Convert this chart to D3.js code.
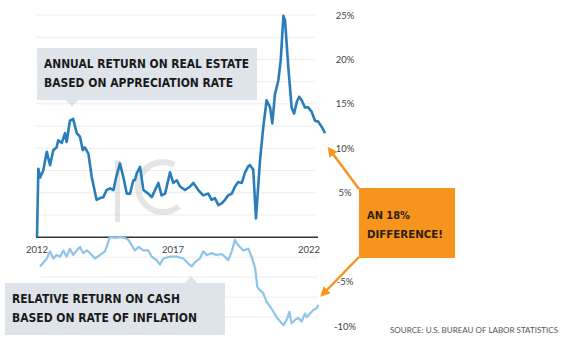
<!DOCTYPE html>
<html>
<head>
<meta charset="utf-8">
<script src="https://cdn.jsdelivr.net/npm/d3@7"></script>
<style>
  body { margin: 0; background: #fff; }
  svg { display: block; }
</style>
</head>
<body>
<svg id="chart" width="578" height="341"></svg>
<script>
// annual appreciation of real estate, % (decimal years)
const reDates = [2012.00, 2012.05, 2012.11, 2012.23, 2012.36, 2012.48, 2012.60, 2012.72, 2012.78, 2012.91,
  2013.03, 2013.09, 2013.21, 2013.33, 2013.46, 2013.58, 2013.68, 2013.76, 2013.89, 2014.01,
  2014.19, 2014.32, 2014.44, 2014.56, 2014.68, 2014.81, 2014.90, 2015.05, 2015.17, 2015.30,
  2015.42, 2015.54, 2015.60, 2015.67, 2015.79, 2015.91, 2016.09, 2016.22, 2016.34, 2016.46,
  2016.58, 2016.71, 2016.89, 2017.01, 2017.14, 2017.26, 2017.44, 2017.63, 2017.75, 2017.93,
  2018.11, 2018.30, 2018.42, 2018.54, 2018.67, 2018.79, 2018.91, 2019.03, 2019.16, 2019.28,
  2019.40, 2019.53, 2019.65, 2019.77, 2019.83, 2019.95, 2020.05, 2020.20, 2020.32, 2020.44,
  2020.57, 2020.65, 2020.75, 2020.87, 2020.96, 2021.06, 2021.12, 2021.24, 2021.36, 2021.45,
  2021.55, 2021.64, 2021.73, 2021.85, 2021.97, 2022.10, 2022.22, 2022.34, 2022.47, 2022.59];
const reValues = [0, 7.7, 6.7, 7.5, 9.6, 8.1, 9.8, 10.1, 10.9, 10.6,
  11.7, 10.7, 13.1, 13.3, 11.7, 11.3, 9.8, 10.1, 9.4, 6.8,
  4.2, 4.4, 4.5, 5.3, 5.5, 5.3, 6.6, 8.3, 6.8, 4.9,
  4.9, 6.4, 6.4, 7.2, 7.9, 5.3, 4.9, 4.5, 5.3, 6.1,
  4.7, 4.9, 7.3, 6.1, 6.4, 5.7, 5.3, 5.7, 6.1, 5.3,
  4.7, 4.9, 4.2, 4.4, 3.6, 3.8, 4.2, 4.7, 4.9, 5.7,
  6.2, 6.1, 7.3, 8.0, 8.1, 7.6, 2.1, 8.7, 12.4, 15.4,
  14.6, 12.8, 16.1, 17.6, 19.9, 24.9, 24.4, 19.1, 14.6, 13.9,
  15.2, 15.8, 15.4, 14.6, 14.6, 14.1, 13.1, 13.0, 12.4, 11.7];

// relative return on cash (minus inflation), %
const cashDates = [2012.11, 2012.36, 2012.48, 2012.60, 2012.72, 2012.85, 2012.97, 2013.09, 2013.21, 2013.33,
  2013.46, 2013.58, 2013.70, 2013.83, 2013.95, 2014.13, 2014.32, 2014.50, 2014.58, 2014.68,
  2014.87, 2015.05, 2015.23, 2015.36, 2015.48, 2015.60, 2015.73, 2015.91, 2016.09, 2016.22,
  2016.40, 2016.52, 2016.64, 2016.89, 2017.14, 2017.38, 2017.57, 2017.69, 2017.81, 2017.99,
  2018.11, 2018.24, 2018.42, 2018.60, 2018.79, 2018.91, 2019.03, 2019.16, 2019.28, 2019.34,
  2019.46, 2019.59, 2019.77, 2019.89, 2020.02, 2020.10, 2020.20, 2020.32, 2020.44, 2020.57,
  2020.69, 2020.81, 2020.94, 2021.06, 2021.18, 2021.28, 2021.36, 2021.49, 2021.61, 2021.73,
  2021.85, 2021.92, 2022.04, 2022.16, 2022.28, 2022.34];
const cashValues = [-3.3, -2.4, -1.6, -2.4, -2.0, -2.2, -1.5, -2.2, -1.3, -2.0,
  -1.5, -1.1, -1.8, -1.5, -1.8, -2.4, -2.0, -1.6, -0.9, 0,
  -0.1, 0, -0.1, -0.3, -0.9, -1.5, -1.1, -1.5, -1.5, -2.2,
  -2.6, -3.1, -2.4, -2.2, -2.2, -2.4, -3.0, -3.3, -2.8, -2.4,
  -1.6, -2.0, -1.8, -2.0, -1.9, -2.2, -2.6, -1.6, -0.3, -0.7,
  -1.1, -1.5, -1.3, -2.2, -3.5, -5.6, -6.0, -6.3, -7.3, -7.8,
  -8.4, -9.0, -9.5, -9.9, -9.3, -8.4, -9.7, -9.3, -9.1, -9.5,
  -8.6, -9.0, -8.6, -8.2, -8.0, -7.6];

const yTicks = [25, 20, 15, 10, 5, -5, -10];
const yearTicks = [2012, 2017, 2022];
const upperGrid = [2.5, 5, 7.5, 10, 12.5, 15, 17.5, 20, 22.5, 25];
const lowerGrid = [-2.25, -4.5, -6.75, -9];

const reLabel = ['ANNUAL RETURN ON REAL ESTATE', 'BASED ON APPRECIATION RATE'];
const cashLabel = ['RELATIVE RETURN ON CASH', 'BASED ON RATE OF INFLATION'];
const diffLabel = ['AN 18%', 'DIFFERENCE!'];
const sourceText = 'SOURCE: U.S. BUREAU OF LABOR STATISTICS';

const orange = '#f7941d';
const labelFont = '"DejaVu Sans", sans-serif';
const svg = d3.select('#chart');

const x = d3.scaleLinear().domain([2012, 2022]).range([37, 309]);
const y = d3.scaleLinear().domain([-10, 25]).range([326, 15]);

svg.append('rect').attr('width', 578).attr('height', 341).attr('fill', '#fff');

// grid
svg.append('g')
  .selectAll('line')
  .data(upperGrid)
  .join('line')
  .attr('x1', 36).attr('x2', 315)
  .attr('y1', d => y(d)).attr('y2', d => y(d))
  .attr('stroke', '#ececec').attr('stroke-width', 1);

svg.append('g')
  .selectAll('line')
  .data(lowerGrid)
  .join('line')
  .attr('x1', 40).attr('x2', 318)
  .attr('y1', d => y(d)).attr('y2', d => y(d))
  .attr('stroke', '#ececec').attr('stroke-width', 1);

// faint watermark
const wm = svg.append('g').attr('opacity', 0.4);
wm.append('rect').attr('x', 115).attr('y', 160).attr('width', 5).attr('height', 62).attr('fill', '#c0c0c0');
wm.append('path')
  .attr('transform', 'translate(163,187)')
  .attr('fill', '#c0c0c0')
  .attr('d', d3.arc()({ innerRadius: 22, outerRadius: 28, startAngle: Math.PI * 0.78, endAngle: Math.PI * 2.15 }));

// baseline
svg.append('line')
  .attr('x1', 36).attr('x2', 318)
  .attr('y1', y(0)).attr('y2', y(0))
  .attr('stroke', '#333').attr('stroke-width', 1.5);

const line = d3.line().x(d => x(d[0])).y(d => y(d[1]));

svg.append('path')
  .datum(d3.zip(cashDates, cashValues))
  .attr('fill', 'none')
  .attr('stroke', '#8ec4ea')
  .attr('stroke-width', 2.2)
  .attr('stroke-linejoin', 'round')
  .attr('d', line);

svg.append('path')
  .datum(d3.zip(reDates, reValues))
  .attr('fill', 'none')
  .attr('stroke', '#2a7dbb')
  .attr('stroke-width', 2.6)
  .attr('stroke-linejoin', 'round')
  .attr('d', line);

// axis labels
svg.append('g')
  .selectAll('text')
  .data(yTicks)
  .join('text')
  .attr('x', 345).attr('y', d => y(d) + 3.5)
  .attr('text-anchor', 'middle')
  .attr('font-family', 'Lato, sans-serif')
  .attr('font-size', 9.5)
  .attr('fill', '#444')
  .text(d => d + '%');

svg.append('g')
  .selectAll('text')
  .data(yearTicks)
  .join('text')
  .attr('x', d => x(d)).attr('y', 253)
  .attr('text-anchor', 'middle')
  .attr('font-family', 'Lato, sans-serif')
  .attr('font-size', 9.5)
  .attr('fill', '#444')
  .text(d => d);

// callout boxes
function callout(bx, by, bw, bh, px, up, lines, widths) {
  const g = svg.append('g');
  g.append('rect').attr('x', bx).attr('y', by).attr('width', bw).attr('height', bh).attr('fill', '#dfe4ea');
  const ty = up ? by : by + bh;
  const dy = up ? -7 : 7;
  g.append('path')
    .attr('d', `M${px - 6},${ty}L${px},${ty + dy}L${px + 6},${ty}Z`)
    .attr('fill', '#dfe4ea');
  lines.forEach((t, i) => {
    g.append('text')
      .attr('x', bx + 7).attr('y', by + 20 + i * 18.5)
      .attr('font-family', labelFont)
      .attr('font-weight', 'bold')
      .attr('font-size', 11.5)
      .attr('fill', '#1a1a1a')
      .attr('textLength', widths[i])
      .attr('lengthAdjust', 'spacingAndGlyphs')
      .text(t);
  });
}
callout(37, 48, 220, 52, 72, false, reLabel, [205, 189]);
callout(5, 283, 220, 52, 191, true, cashLabel, [168, 185]);

// orange difference box
svg.append('rect').attr('x', 359).attr('y', 188).attr('width', 96).attr('height', 70).attr('fill', orange);
diffLabel.forEach((t, i) => {
  svg.append('text')
    .attr('x', 367).attr('y', 219 + i * 18.5)
    .attr('font-family', labelFont)
    .attr('font-weight', 'bold')
    .attr('font-size', 11)
    .attr('fill', '#2e1c0a')
    .attr('textLength', i === 0 ? 43 : 76)
    .attr('lengthAdjust', 'spacingAndGlyphs')
    .text(t);
});

svg.append('defs').append('marker')
  .attr('id', 'arrow')
  .attr('viewBox', '0 0 10 10')
  .attr('refX', 6).attr('refY', 5)
  .attr('markerWidth', 4).attr('markerHeight', 4)
  .attr('orient', 'auto')
  .append('path')
  .attr('d', 'M0,0L10,5L0,10Z')
  .attr('fill', orange);

const arrows = [[359, 189, 330, 150], [359, 257, 323, 294]];
svg.append('g')
  .selectAll('line')
  .data(arrows)
  .join('line')
  .attr('x1', d => d[0]).attr('y1', d => d[1])
  .attr('x2', d => d[2]).attr('y2', d => d[3])
  .attr('stroke', orange)
  .attr('stroke-width', 2.5)
  .attr('marker-end', 'url(#arrow)');

svg.append('text')
  .attr('x', 390).attr('y', 333)
  .attr('font-family', 'Lato, sans-serif')
  .attr('font-size', 7.5)
  .attr('fill', '#555')
  .attr('textLength', 168)
  .attr('lengthAdjust', 'spacingAndGlyphs')
  .text(sourceText);
</script>
</body>
</html>
